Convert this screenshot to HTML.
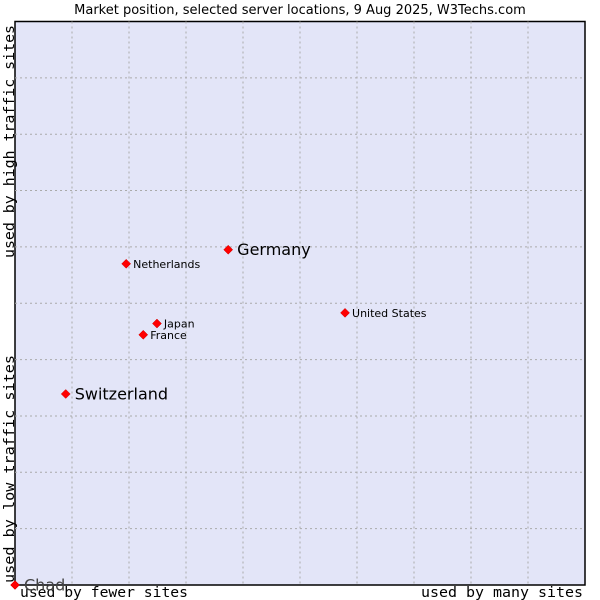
<!DOCTYPE html>
<html><head><meta charset="utf-8"><style>
body{margin:0;background:#fff;}
svg{display:block;}
</style></head><body>
<svg id="chart" width="600" height="600" xmlns="http://www.w3.org/2000/svg">
<text x="300" y="14" text-anchor="middle" font-family="DejaVu Sans, sans-serif" font-size="13" fill="#000">Market position, selected server locations, 9 Aug 2025, W3Techs.com</text>
<rect x="15" y="21.5" width="570" height="563.5" fill="#e3e5f8" stroke="#000" stroke-width="1.5"/>
<g id="grid"></g>
<text x="20" y="597" font-family="DejaVu Sans Mono, monospace" font-size="14.5" textLength="168" lengthAdjust="spacingAndGlyphs">used by fewer sites</text>
<text x="421" y="597" font-family="DejaVu Sans Mono, monospace" font-size="14.5" textLength="162" lengthAdjust="spacingAndGlyphs">used by many sites</text>
<text transform="translate(14,583) rotate(-90)" font-family="DejaVu Sans Mono, monospace" font-size="14.5" textLength="228" lengthAdjust="spacingAndGlyphs">used by low traffic sites</text>
<text transform="translate(14,258) rotate(-90)" font-family="DejaVu Sans Mono, monospace" font-size="14.5" textLength="233" lengthAdjust="spacingAndGlyphs">used by high traffic sites</text>
<g id="points"></g>
</svg>
<script>
const names = ["Germany","Netherlands","United States","Japan","France","Switzerland","Chad"];
const xValues = [37.4,19.5,57.9,24.9,22.5,8.9,0];
const yValues = [59.5,57.0,48.3,46.4,44.4,33.9,0];
const bigLabel = [true,false,false,false,false,true,true];
const NS="http://www.w3.org/2000/svg";
const L=15,R=585,T=21.5,B=585;
function sx(v){return L+(R-L)*v/100;}
function sy(v){return B-(B-T)*v/100;}
const grid=document.getElementById('grid');
for(let i=1;i<10;i++){
  const vx=document.createElementNS(NS,'line');
  vx.setAttribute('x1',sx(i*10));vx.setAttribute('x2',sx(i*10));vx.setAttribute('y1',T);vx.setAttribute('y2',B);
  vx.setAttribute('stroke','#aaa');vx.setAttribute('stroke-dasharray','2,3');
  
  
  grid.appendChild(vx);
  const hy=document.createElementNS(NS,'line');
  hy.setAttribute('y1',sy(i*10));hy.setAttribute('y2',sy(i*10));hy.setAttribute('x1',L);hy.setAttribute('x2',R);
  hy.setAttribute('stroke','#aaa');hy.setAttribute('stroke-dasharray','2,3');
  
  
  grid.appendChild(hy);
}
const pts=document.getElementById('points');
names.forEach((n,i)=>{
  const x=sx(xValues[i]),y=sy(yValues[i]);
  const d=document.createElementNS(NS,'polygon');
  d.setAttribute('points',`${x},${y-4.5} ${x+4.5},${y} ${x},${y+4.5} ${x-4.5},${y}`);
  d.setAttribute('fill','#ff0000');d.setAttribute('stroke','#c00');d.setAttribute('stroke-width','0.5');
  
  
  pts.appendChild(d);
  const t=document.createElementNS(NS,'text');
  t.setAttribute('x',x+(bigLabel[i]?9:7));
  t.setAttribute('y',y+(bigLabel[i]?5.5:4));
  t.setAttribute('font-family','DejaVu Sans, sans-serif');
  t.setAttribute('font-size',bigLabel[i]?'16':'11');
  t.setAttribute('fill',n==='Chad'?'#444':'#000');
  t.textContent=n;
  
  
  pts.appendChild(t);
});
</script>
</body></html>
